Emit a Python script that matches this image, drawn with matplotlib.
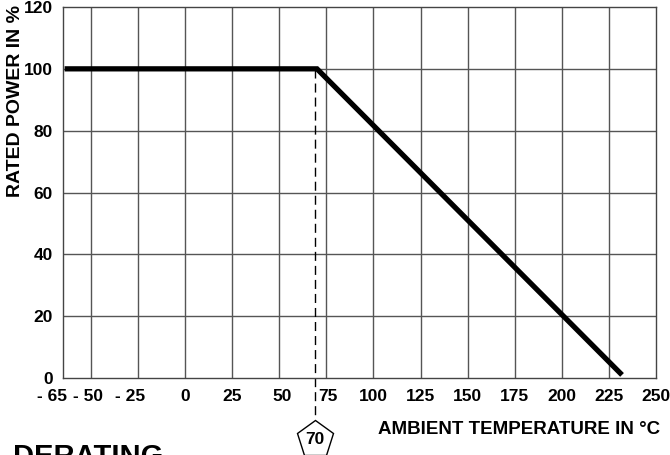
import matplotlib
matplotlib.use("Agg")
import matplotlib.pyplot as plt
import matplotlib.transforms as mtransforms

# ---- data ----
curve_x = [-64, 70, 232]
curve_y = [100, 100, 1]
x_ticks = [-65, -50, -25, 0, 25, 50, 75, 100, 125, 150, 175, 200, 225, 250]
x_tick_labels = ["- 65", "- 50", "- 25", "0", "25", "50", "75", "100", "125",
                 "150", "175", "200", "225", "250"]
x_grid = [-50, -25, 0, 25, 50, 75, 100, 125, 150, 175, 200, 225]
y_ticks = [0, 20, 40, 60, 80, 100, 120]
y_tick_labels = ["0", "20", "40", "60", "80", "100", "120"]
knee_marker_x = 68.7
knee_label = "70"
# label x offsets in pixels (reference placement)
label_shift_px = {"- 65": -11, "- 50": -3, "- 25": -8, "50": 3, "75": 2}

plt.rcParams['font.family'] = ['Liberation Sans', 'DejaVu Sans']
plt.rcParams['font.weight'] = 'bold'

fig = plt.figure(figsize=(6.7, 4.55), dpi=100)
ax = fig.add_axes([0.0937, 0.1692, 0.979 - 0.0937, 0.9846 - 0.1692])

grid_col = '#555555'
for gx in x_grid:
    ax.axvline(gx, color=grid_col, lw=1.0, zorder=1)
for gy in y_ticks[1:-1]:
    ax.axhline(gy, color=grid_col, lw=1.0, zorder=1)

ax.set_xlim(-65, 250)
ax.set_ylim(0, 120)
for s in ax.spines.values():
    s.set_color('#444444')
    s.set_linewidth(1.0)

ax.set_xticks(x_ticks)
ax.set_xticklabels(x_tick_labels, fontsize=12.5, fontweight='bold')
ax.set_yticks(y_ticks)
ax.set_yticklabels(y_tick_labels, fontsize=12.5, fontweight='bold')
ax.tick_params(axis='both', length=0)
ax.tick_params(axis='x', pad=8)
ax.tick_params(axis='y', pad=7)

for lbl in ax.get_xticklabels():
    t = lbl.get_text()
    if t in label_shift_px:
        off = mtransforms.ScaledTranslation(label_shift_px[t] / 100.0, 0, fig.dpi_scale_trans)
        lbl.set_transform(lbl.get_transform() + off)

# dashed guide line at the knee, running below the axis to the pentagon
ax.plot([knee_marker_x, knee_marker_x], [100, -13.3], color='black', lw=1.0,
        dashes=(6.5, 3.6), clip_on=False, zorder=2)
ax.plot([knee_marker_x], [-19.7], marker='p', ms=28, mfc='white', mec='black',
        mew=1.0, clip_on=False, zorder=3)
ax.text(knee_marker_x, -19.9, knee_label, ha='center', va='center',
        fontsize=12.5, fontweight='bold', clip_on=False, zorder=4)

# derating curve
ax.plot(curve_x, curve_y, color='black', lw=3.8, solid_capstyle='butt',
        solid_joinstyle='miter', zorder=5)

fig.text(16 / 670, 1 - 101 / 455, "RATED POWER IN %", rotation=90,
         ha='center', va='center', fontsize=14, fontweight='bold')
fig.text(519.5 / 670, 1 - 429 / 455, "AMBIENT TEMPERATURE IN °C",
         ha='center', va='center', fontsize=13.5, fontweight='bold')
fig.text(13 / 670, 1 - 443 / 455, "DERATING", ha='left', va='top',
         fontsize=21, fontweight='bold')

fig.savefig("out.png", dpi=100)
